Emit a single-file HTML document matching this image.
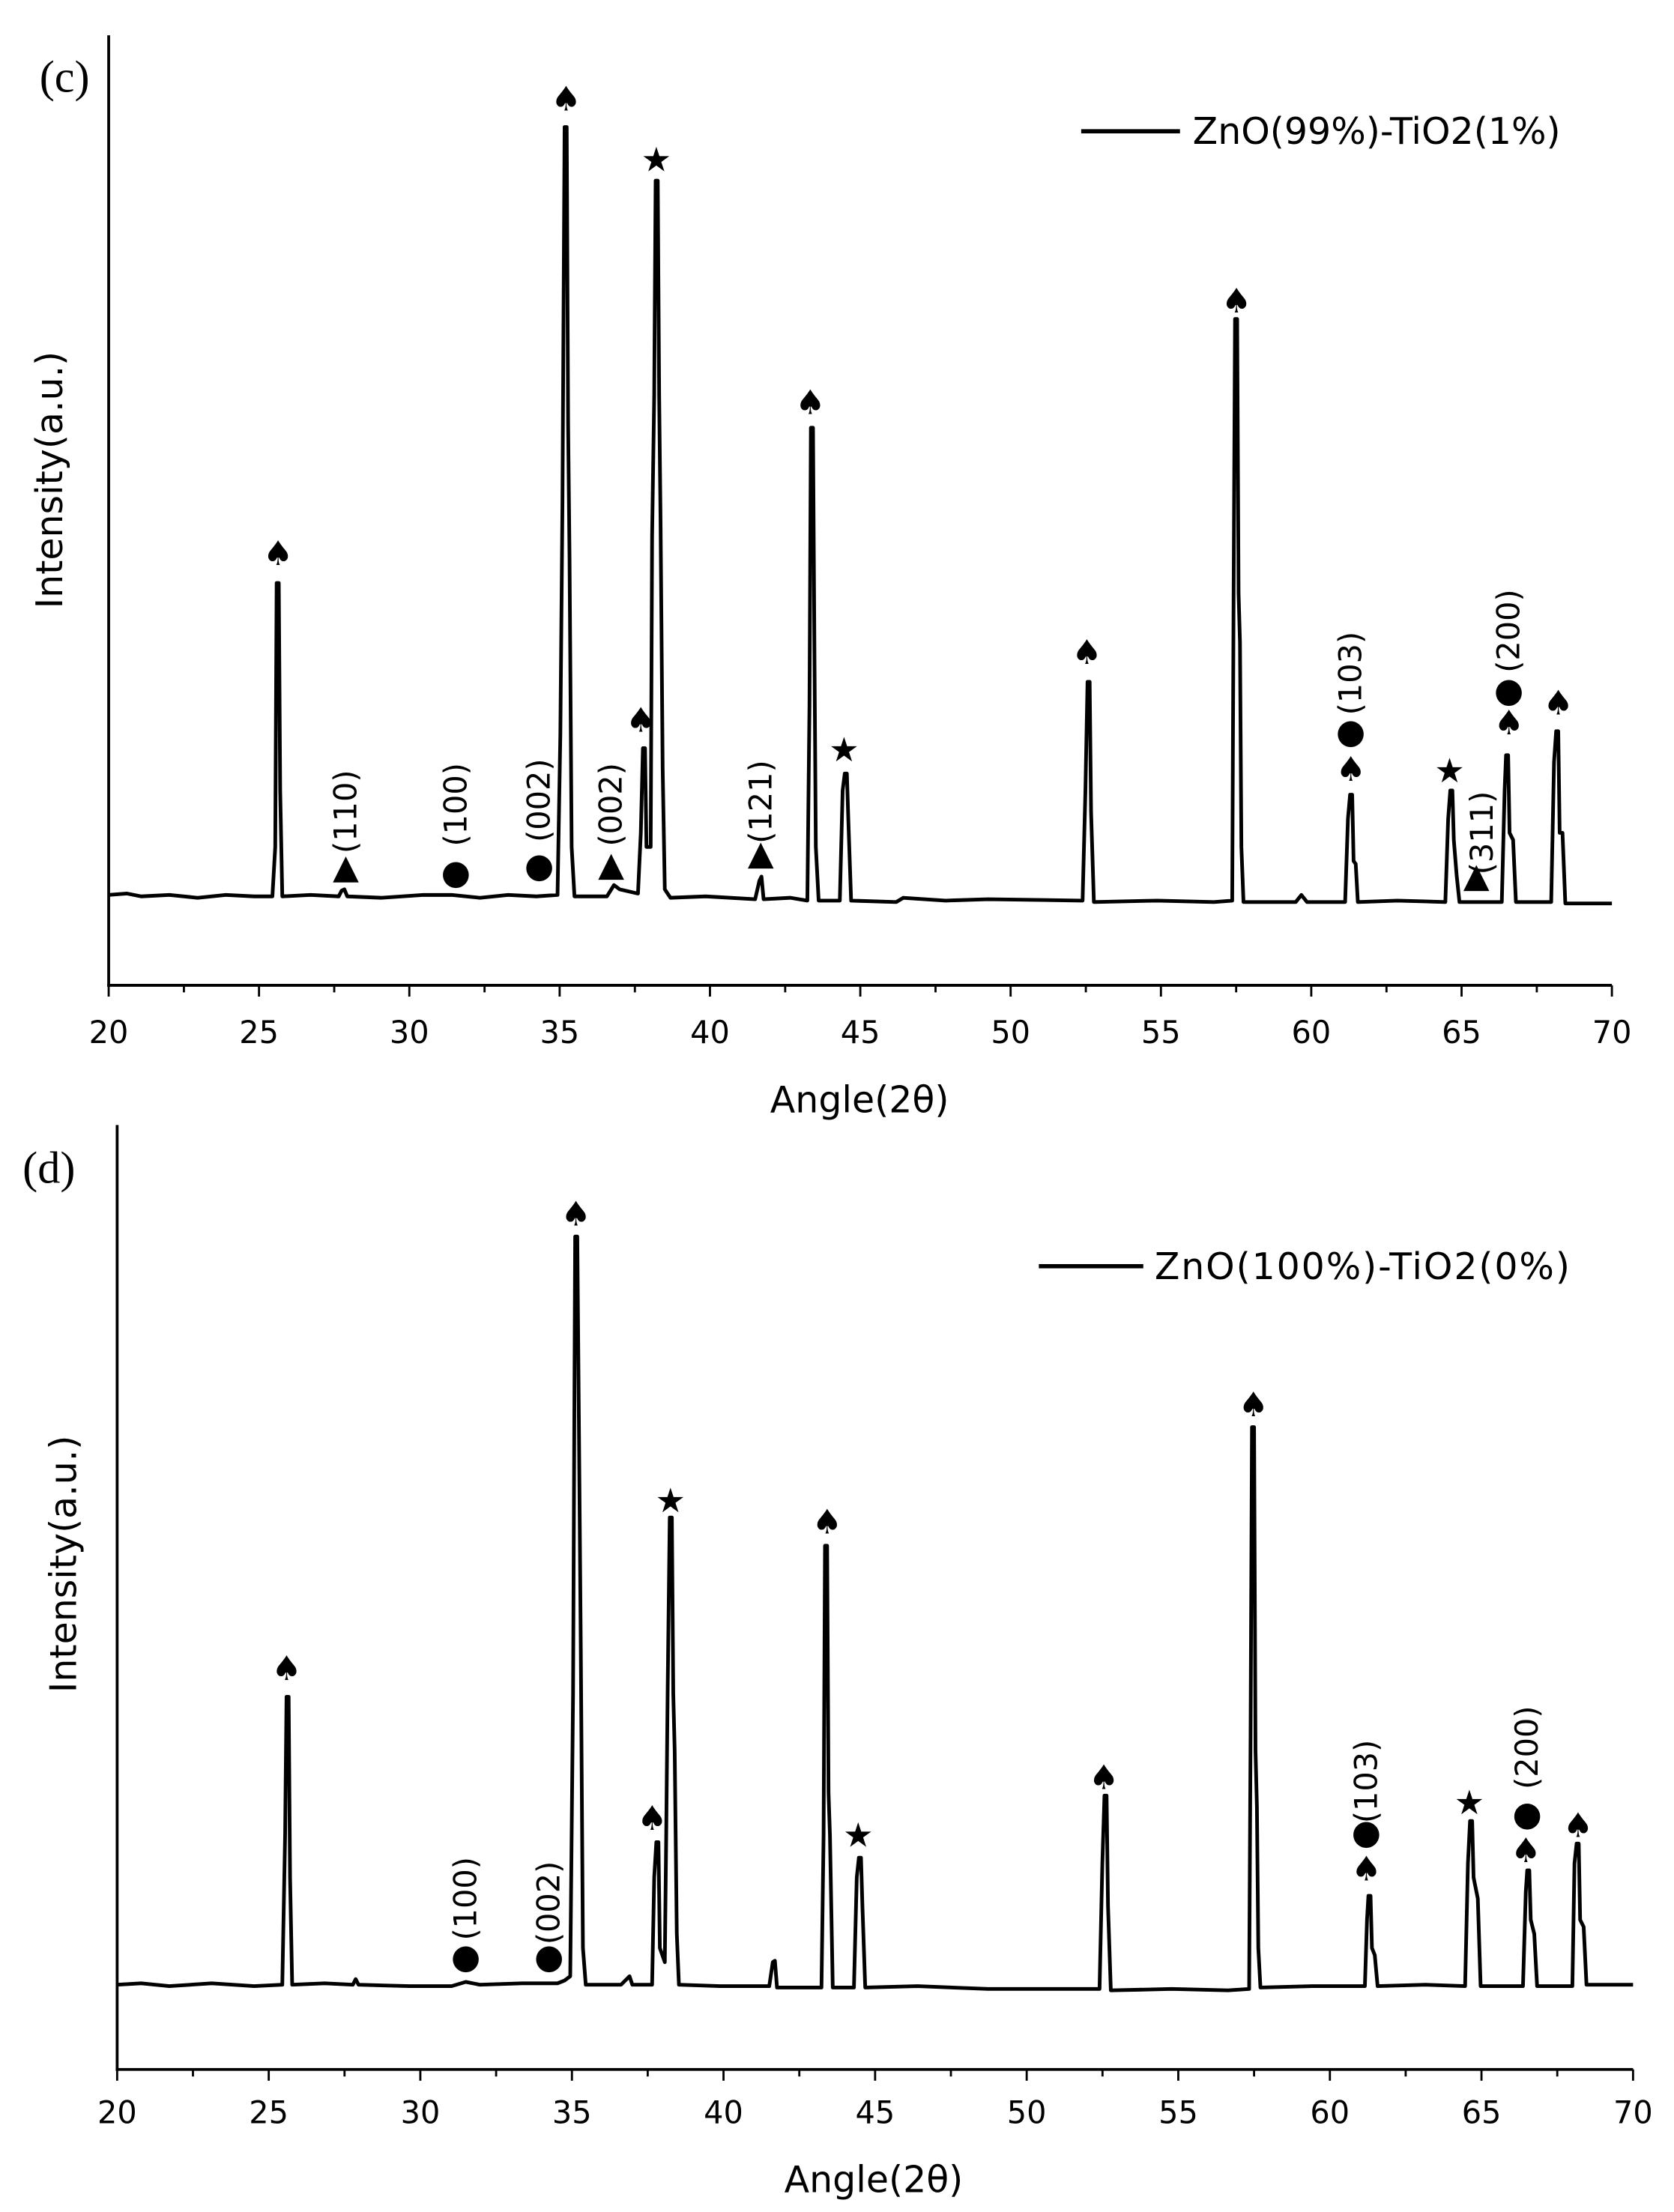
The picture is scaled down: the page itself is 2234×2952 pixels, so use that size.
<!DOCTYPE html>
<html><head><meta charset="utf-8"><style>
html,body{margin:0;padding:0;background:#fff;}
svg{display:block;}
text{font-family:"DejaVu Sans","Liberation Sans",sans-serif;fill:#000;}
.t{font-size:22px;}
.lab{font-size:26px;}
.m{font-size:24px;text-anchor:middle;dominant-baseline:central;}
.hk{font-size:22px;text-anchor:middle;dominant-baseline:central;}
.ser{font-family:"Liberation Serif",serif;font-size:32px;}
</style></head><body>
<svg width="2234" height="2952" viewBox="0 0 1186 1567" preserveAspectRatio="none" xmlns="http://www.w3.org/2000/svg">
<rect width="1186" height="1567" fill="#fff"/>
<!-- Panel c -->
<g stroke="#000" stroke-width="2" fill="none">
<line x1="77" y1="25" x2="77" y2="699"/>
<line x1="76" y1="698" x2="1142" y2="698"/>
</g>
<g stroke="#000" stroke-width="1.5">
<line x1="77" y1="698" x2="77" y2="706"/><line x1="130.3" y1="698" x2="130.3" y2="703"/>
<line x1="183.5" y1="698" x2="183.5" y2="706"/><line x1="236.8" y1="698" x2="236.8" y2="703"/>
<line x1="290" y1="698" x2="290" y2="706"/><line x1="343.3" y1="698" x2="343.3" y2="703"/>
<line x1="396.5" y1="698" x2="396.5" y2="706"/><line x1="449.8" y1="698" x2="449.8" y2="703"/>
<line x1="503" y1="698" x2="503" y2="706"/><line x1="556.3" y1="698" x2="556.3" y2="703"/>
<line x1="609.5" y1="698" x2="609.5" y2="706"/><line x1="662.8" y1="698" x2="662.8" y2="703"/>
<line x1="716" y1="698" x2="716" y2="706"/><line x1="769.3" y1="698" x2="769.3" y2="703"/>
<line x1="822.5" y1="698" x2="822.5" y2="706"/><line x1="875.8" y1="698" x2="875.8" y2="703"/>
<line x1="929" y1="698" x2="929" y2="706"/><line x1="982.3" y1="698" x2="982.3" y2="703"/>
<line x1="1035.5" y1="698" x2="1035.5" y2="706"/><line x1="1088.8" y1="698" x2="1088.8" y2="703"/>
<line x1="1142" y1="698" x2="1142" y2="706"/>
</g>
<g class="t" text-anchor="middle">
<text x="77" y="739">20</text><text x="183.5" y="739">25</text><text x="290" y="739">30</text><text x="396.5" y="739">35</text><text x="503" y="739">40</text><text x="609.5" y="739">45</text><text x="716" y="739">50</text><text x="822.5" y="739">55</text><text x="929" y="739">60</text><text x="1035.5" y="739">65</text><text x="1142" y="739">70</text>
</g>
<text class="lab" x="609" y="788" text-anchor="middle">Angle(2θ)</text>
<text class="lab" transform="translate(44,340) rotate(-90)" text-anchor="middle">Intensity(a.u.)</text>
<text class="ser" x="28" y="65">(c)</text>
<line x1="766" y1="93" x2="836" y2="93" stroke="#000" stroke-width="3"/>
<text x="845" y="102" style="font-size:26px">ZnO(99%)-TiO2(1%)</text>
<path fill="none" stroke="#000" stroke-width="2.6" stroke-linejoin="round" d="M77,634 L90,633 L100,635 L120,634 L140,636 L160,634 L180,635 L193,635 L195,600 L196,413 L197.5,413 L198.5,560 L200,635 L220,634 L240,635 L242,631 L244,630 L246,635 L270,636 L300,634 L320,634 L340,636 L360,634 L380,635 L395,634 L397,520 L398.5,355 L400,90 L401.5,90 L402.5,300 L403.5,395 L405,600 L407,635 L430,635 L435,627 L439,630 L452,633 L454,590 L455.5,530 L457,530 L458,600 L461,600 L462,380 L463.5,280 L464.5,128 L466,128 L467,280 L468,370 L469.5,545 L471,630 L475,636 L500,635 L535,637 L538,624 L539.5,621 L541,637 L560,636 L572,638 L573.5,500 L574.5,303 L576,303 L577,460 L578,600 L580,638 L595,638 L597,560 L598.5,548 L600,548 L601,580 L603,638 L635,639 L640,636 L670,638 L700,637 L767,638 L769,560 L770.5,483 L772,483 L773,575 L775,639 L820,638 L860,639 L873,638 L874,420 L875,226 L876.5,226 L877.5,420 L878.5,455 L879.5,600 L881,639 L918,639 L922,634 L926,639 L953,639 L955,580 L956.5,563 L958,563 L959,610 L960.5,612 L962,639 L990,638 L1024,639 L1026,580 L1027.5,560 L1029,560 L1030,595 L1032,620 L1034,639 L1064,639 L1066,560 L1067,535 L1068.5,535 L1069.5,590 L1072,595 L1074,639 L1099,639 L1101,540 L1102.5,518 L1104,518 L1105,590 L1107,590 L1109,640 L1142,640"/>
<g class="m">
<text x="197" y="392">♠</text><text x="401" y="70">♠</text><text x="454" y="510">♠</text><text x="574" y="285">♠</text><text x="770" y="462">♠</text><text x="876" y="213">♠</text><text x="957" y="545">♠</text><text x="1069" y="512">♠</text><text x="1104" y="498">♠</text>
<text x="465" y="113">★</text><text x="598" y="531">★</text><text x="1027" y="546">★</text>
<text x="323" y="618">●</text><text x="382" y="613">●</text><text x="957" y="518">●</text><text x="1069" y="489">●</text>
<text x="245" y="614">▲</text><text x="433" y="612">▲</text><text x="539" y="604">▲</text><text x="1046" y="620">▲</text>
</g>
<g class="hk">
<text transform="translate(245,575) rotate(-90)">(110)</text>
<text transform="translate(323,570) rotate(-90)">(100)</text>
<text transform="translate(382,567) rotate(-90)">(002)</text>
<text transform="translate(433,570) rotate(-90)">(002)</text>
<text transform="translate(539,568) rotate(-90)">(121)</text>
<text transform="translate(957,477) rotate(-90)">(103)</text>
<text transform="translate(1050,590) rotate(-90)">(311)</text>
<text transform="translate(1069,447) rotate(-90)">(200)</text>
</g>

<!-- Panel d -->
<g stroke="#000" stroke-width="2" fill="none">
<line x1="83" y1="797" x2="83" y2="1467"/>
<line x1="82" y1="1466" x2="1157" y2="1466"/>
</g>
<g stroke="#000" stroke-width="1.5">
<line x1="83" y1="1466" x2="83" y2="1474"/><line x1="136.7" y1="1466" x2="136.7" y2="1471"/>
<line x1="190.4" y1="1466" x2="190.4" y2="1474"/><line x1="244.1" y1="1466" x2="244.1" y2="1471"/>
<line x1="297.8" y1="1466" x2="297.8" y2="1474"/><line x1="351.5" y1="1466" x2="351.5" y2="1471"/>
<line x1="405.2" y1="1466" x2="405.2" y2="1474"/><line x1="458.9" y1="1466" x2="458.9" y2="1471"/>
<line x1="512.6" y1="1466" x2="512.6" y2="1474"/><line x1="566.3" y1="1466" x2="566.3" y2="1471"/>
<line x1="620" y1="1466" x2="620" y2="1474"/><line x1="673.7" y1="1466" x2="673.7" y2="1471"/>
<line x1="727.4" y1="1466" x2="727.4" y2="1474"/><line x1="781.1" y1="1466" x2="781.1" y2="1471"/>
<line x1="834.8" y1="1466" x2="834.8" y2="1474"/><line x1="888.5" y1="1466" x2="888.5" y2="1471"/>
<line x1="942.2" y1="1466" x2="942.2" y2="1474"/><line x1="995.9" y1="1466" x2="995.9" y2="1471"/>
<line x1="1049.6" y1="1466" x2="1049.6" y2="1474"/><line x1="1103.3" y1="1466" x2="1103.3" y2="1471"/>
<line x1="1157" y1="1466" x2="1157" y2="1474"/>
</g>
<g class="t" text-anchor="middle">
<text x="83" y="1504">20</text><text x="190.4" y="1504">25</text><text x="297.8" y="1504">30</text><text x="405.2" y="1504">35</text><text x="512.6" y="1504">40</text><text x="620" y="1504">45</text><text x="727.4" y="1504">50</text><text x="834.8" y="1504">55</text><text x="942.2" y="1504">60</text><text x="1049.6" y="1504">65</text><text x="1157" y="1504">70</text>
</g>
<text class="lab" x="619" y="1553" text-anchor="middle">Angle(2θ)</text>
<text class="lab" transform="translate(54,1108) rotate(-90)" text-anchor="middle">Intensity(a.u.)</text>
<text class="ser" x="16" y="838">(d)</text>
<line x1="736" y1="897" x2="810" y2="897" stroke="#000" stroke-width="3"/>
<text x="818" y="906" style="font-size:26px;letter-spacing:1px">ZnO(100%)-TiO2(0%)</text>
<path fill="none" stroke="#000" stroke-width="2.6" stroke-linejoin="round" d="M83,1406 L100,1405 L120,1407 L150,1405 L180,1407 L200,1406 L202,1300 L203,1202 L204.5,1202 L205.5,1330 L207,1406 L230,1405 L250,1406 L252,1402 L254,1406 L290,1407 L320,1407 L330,1404 L340,1406 L370,1405 L395,1405 L400,1403 L404,1400 L406,1200 L407.5,876 L409,876 L410.5,1050 L411.5,1170 L413,1380 L415,1406 L440,1406 L446,1400 L448,1406 L462,1406 L463.5,1330 L465,1305 L466.5,1305 L467.5,1380 L471,1390 L472,1300 L473,1200 L474.5,1075 L476,1075 L477,1200 L478,1240 L479.5,1370 L481,1406 L510,1407 L545,1407 L547.5,1390 L549,1389 L550.5,1408 L582,1408 L583.5,1300 L584.5,1095 L586,1095 L587,1270 L588,1300 L590,1408 L605,1408 L607,1330 L608.5,1316 L610,1316 L611,1350 L613,1408 L650,1407 L700,1409 L779,1409 L781,1320 L782.5,1272 L784,1272 L785,1350 L787,1410 L830,1409 L870,1410 L885,1409 L886,1230 L887,1011 L888.5,1011 L889.5,1240 L890.5,1280 L891.5,1380 L893,1408 L930,1407 L960,1407 L967,1407 L968.5,1360 L969.5,1343 L971,1343 L972,1380 L974,1385 L976,1407 L1010,1406 L1038,1407 L1040,1320 L1041.5,1290 L1043,1290 L1044,1330 L1047,1345 L1049,1407 L1079,1407 L1081,1340 L1082,1325 L1083.5,1325 L1084.5,1360 L1087,1370 L1089,1407 L1114,1407 L1115.5,1320 L1117,1306 L1118.5,1306 L1119.5,1360 L1122,1365 L1124,1406 L1157,1406"/>
<g class="m">
<text x="203" y="1182">♠</text><text x="408" y="860">♠</text><text x="462" y="1288">♠</text><text x="586" y="1078">♠</text><text x="782" y="1259">♠</text><text x="888" y="995">♠</text><text x="968" y="1324">♠</text><text x="1081" y="1311">♠</text><text x="1118" y="1293">♠</text>
<text x="475" y="1063">★</text><text x="608" y="1300">★</text><text x="1041" y="1277">★</text>
<text x="330" y="1386">●</text><text x="389" y="1386">●</text><text x="968" y="1298">●</text><text x="1082" y="1285">●</text>
</g>
<g class="hk">
<text transform="translate(330,1345) rotate(-90)">(100)</text>
<text transform="translate(389,1348) rotate(-90)">(002)</text>
<text transform="translate(968,1262) rotate(-90)">(103)</text>
<text transform="translate(1082,1238) rotate(-90)">(200)</text>
</g>
</svg>
</body></html>
